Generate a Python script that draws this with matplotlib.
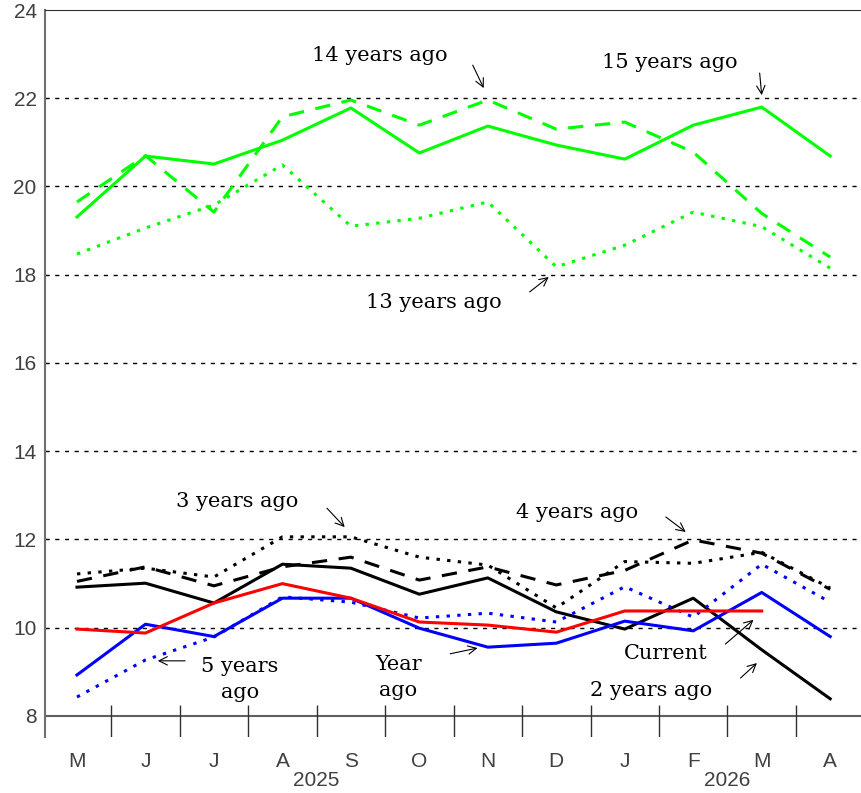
import numpy as np
import matplotlib
matplotlib.use("Agg")
from matplotlib import pyplot as plt
from matplotlib import transforms

months = ["M", "J", "J", "A", "S", "O", "N", "D", "J", "F", "M", "A"]
years = ["2025", "2026"]
year_pos = [3.5, 9.5]

# values
current = [9.97, 9.88, 10.56, 11.0, 10.67, 10.13, 10.06, 9.9, 10.38, 10.38, 10.38]
year_ago = [8.93, 10.08, 9.8, 10.67, 10.67, 9.99, 9.56, 9.65, 10.15, 9.93, 10.8, 9.8]
two_years = [10.92, 11.01, 10.56, 11.44, 11.35, 10.76, 11.13, 10.36, 9.97, 10.67, 9.5, 8.39]
three_years = [11.22, 11.35, 11.15, 12.06, 12.06, 11.6, 11.42, 10.45, 11.5, 11.46, 11.71, 10.9]
four_years = [11.05, 11.38, 10.95, 11.38, 11.6, 11.08, 11.38, 10.97, 11.3, 11.99, 11.69, 10.87]
five_years = [8.43, 9.27, 9.79, 10.7, 10.58, 10.22, 10.33, 10.13, 10.93, 10.24, 11.44, 10.58]
thirteen = [18.47, 19.06, 19.58, 20.49, 19.1, 19.28, 19.65, 18.18, 18.67, 19.42, 19.09, 18.15]
fourteen = [19.65, 20.7, 19.42, 21.58, 21.96, 21.39, 21.96, 21.3, 21.46, 20.78, 19.39, 18.4]
fifteen = [19.31, 20.69, 20.51, 21.05, 21.78, 20.76, 21.37, 20.94, 20.62, 21.39, 21.8, 20.69]

x = np.arange(len(months))

fig = plt.figure(figsize=(8.61, 7.93), dpi=100)
ax = fig.add_axes([45 / 861, 1 - 737 / 793, 1 - 45 / 861, (737 - 10) / 793])

lw = 2.2
dash = (0, (5, 3.8))
dot = (0, (1.1, 2.4))

ax.plot(x, fifteen, color="#00ff00", lw=lw)
ax.plot(x, fourteen, color="#00ff00", lw=lw, linestyle=dash)
ax.plot(x, thirteen, color="#00ff00", lw=lw, linestyle=dot)
ax.plot(x, four_years, color="black", lw=lw, linestyle=dash)
ax.plot(x, three_years, color="black", lw=lw, linestyle=dot)
ax.plot(x, two_years, color="black", lw=lw)
ax.plot(x, five_years, color="#0000ff", lw=lw, linestyle=dot)
ax.plot(x, year_ago, color="#0000ff", lw=lw)
ax.plot(x[:len(current)], current, color="#ff0000", lw=lw)

ax.set_xlim(-0.467, 11.45)
ax.set_ylim(7.524, 24)

# dashed grid lines
for g in range(10, 24, 2):
    ax.axhline(g, color="black", lw=1, linestyle=(0, (3, 4)), zorder=0)
ax.axhline(8, color="#606060", lw=1.5, zorder=1)
ax.vlines(x[:-1] + 0.5, 7.524, 8.25, color="#303030", lw=1)

ax.spines["bottom"].set_visible(False)
ax.spines["right"].set_visible(False)
ax.spines["left"].set_color("#707070")
ax.spines["left"].set_linewidth(1.5)
ax.spines["top"].set_color("#303030")

tick_font = dict(family="Liberation Sans", size=15, color="#404040")
ax.set_yticks(range(8, 25, 2))
ax.set_yticklabels([str(v) for v in range(8, 25, 2)], **tick_font)
ax.set_xticks(x)
ax.set_xticklabels(months, **tick_font)
ax.tick_params(axis="y", length=0, pad=6)
ax.tick_params(axis="x", length=0, pad=11)

trans = transforms.blended_transform_factory(ax.transData, fig.transFigure)
for yr, xp in zip(years, year_pos):
    ax.text(xp, 1 - 781 / 793, yr, transform=trans, ha="center", va="center",
            clip_on=False, **tick_font)

# annotations
ann_font = dict(family="DejaVu Serif", size=15, color="black")
labels = [
    ("14 years ago", (4.42, 22.98), (5.78, 22.75), (5.94, 22.23)),
    ("15 years ago", (8.66, 22.82), (9.97, 22.57), (10.0, 22.07)),
    ("13 years ago", (5.21, 17.38), (6.61, 17.61), (6.89, 17.95)),
    ("3 years ago", (2.34, 12.85), (3.65, 12.71), (3.91, 12.28)),
    ("4 years ago", (7.30, 12.62), (8.60, 12.51), (8.89, 12.17)),
    ("5 years\nago", (2.38, 8.82), (1.58, 9.25), (1.18, 9.25)),
    ("Year\nago", (4.69, 8.88), (5.45, 9.41), (5.85, 9.54)),
    ("Current", (8.60, 9.41), (9.47, 9.63), (9.88, 10.18)),
    ("2 years ago", (8.39, 8.57), (9.69, 8.86), (9.93, 9.20)),
]
for txt, pos, tail, tip in labels:
    ax.text(pos[0], pos[1], txt, ha="center", va="center", linespacing=1.45,
            **ann_font)
    ax.annotate("", xy=tip, xytext=tail,
                arrowprops=dict(arrowstyle="->", color="black", lw=0.8,
                                shrinkA=0, shrinkB=0, mutation_scale=15))

fig.savefig("out.png", dpi=100)
